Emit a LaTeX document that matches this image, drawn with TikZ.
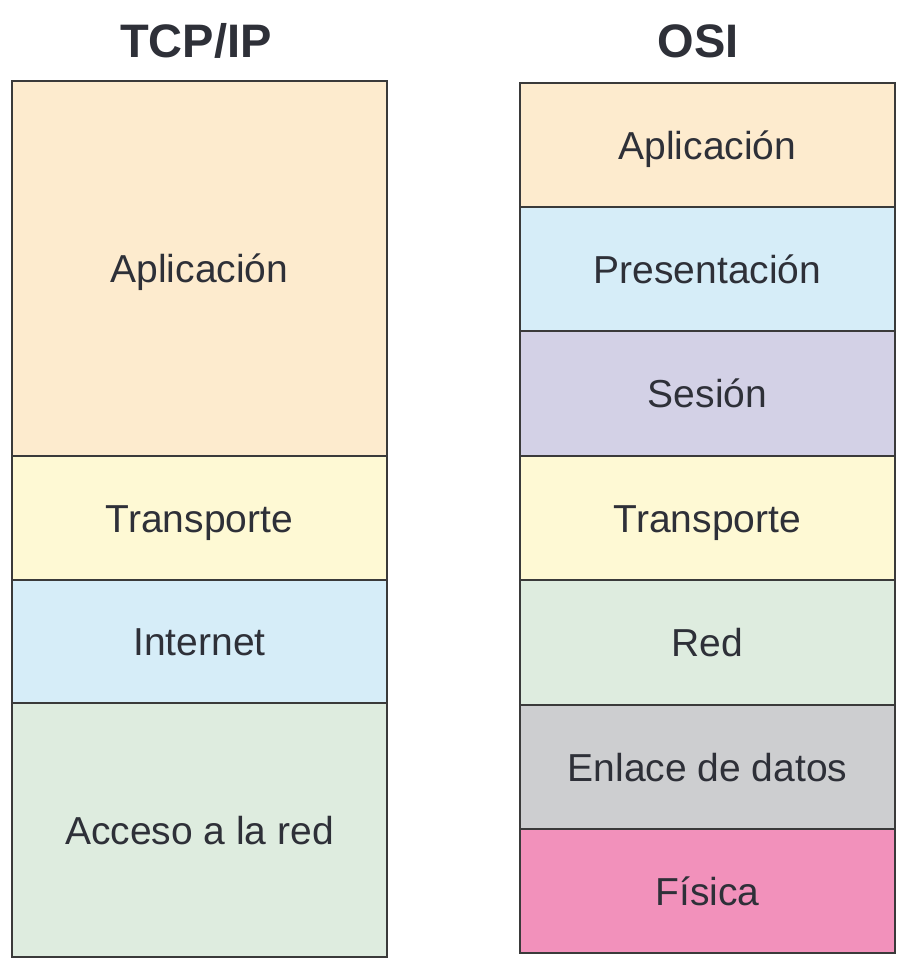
\documentclass[tikz,border=0pt]{standalone}
\usepackage{fontspec}
\setmainfont{Liberation Sans}
\definecolor{txt}{HTML}{2E3038}
\definecolor{bord}{HTML}{3A3A3A}
\definecolor{cApp}{HTML}{FDEBCE}
\definecolor{cTra}{HTML}{FEF9D4}
\definecolor{cBlu}{HTML}{D6EDF8}
\definecolor{cSes}{HTML}{D3D1E6}
\definecolor{cGrn}{HTML}{DEECDF}
\definecolor{cGry}{HTML}{CDCED0}
\definecolor{cPnk}{HTML}{F291BB}
\tikzset{
  layer/.style={draw=bord, line width=2pt, minimum width=375pt, inner sep=0pt,
    text height=28pt, text depth=0pt,
    font=\fontsize{39}{42}\selectfont, text=txt, anchor=north},
  title/.style={font=\fontsize{47}{50}\selectfont\bfseries, text=txt,
    text height=34pt, text depth=0pt, inner sep=0pt}
}
\begin{document}
\begin{tikzpicture}[x=1pt,y=-1pt]
\useasboundingbox (0,0) rectangle (906,958);
\fill[white] (0,0) rectangle (906,958);
% titles
\node[title] (ttcp) at (196,40) {TCP/IP};
\node[title] (tosi) at (698,40) {OSI};
% TCP/IP stack
\node[layer, fill=cApp, minimum height=375pt] (lapp) at (199.5,80) {Aplicación};
\node[layer, fill=cTra, minimum height=124pt] (ltra) at (199.5,455) {Transporte};
\node[layer, fill=cBlu, minimum height=123pt] (lint) at (199.5,579) {Internet};
\node[layer, fill=cGrn, minimum height=254pt] (lacc) at (199.5,702) {Acceso a la red};
% OSI stack
\node[layer, fill=cApp, minimum height=124pt] (oapp) at (707.5,82) {Aplicación};
\node[layer, fill=cBlu, minimum height=124pt] (opre) at (707.5,206) {Presentación};
\node[layer, fill=cSes, minimum height=125pt] (oses) at (707.5,330) {Sesión};
\node[layer, fill=cTra, minimum height=124pt] (otra) at (707.5,455) {Transporte};
\node[layer, fill=cGrn, minimum height=125pt] (ored) at (707.5,579) {Red};
\node[layer, fill=cGry, minimum height=124pt] (oenl) at (707.5,704) {Enlace de datos};
\node[layer, fill=cPnk, minimum height=124pt] (ofis) at (707.5,828) {Física};
\end{tikzpicture}
\end{document}
